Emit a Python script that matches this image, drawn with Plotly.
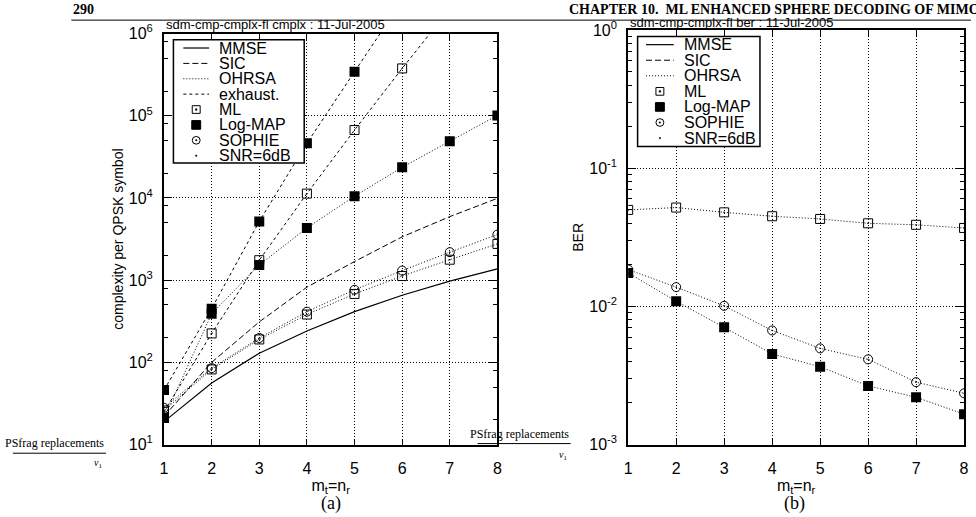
import plotly.graph_objects as go

# ---------------- data ----------------
n_tx = [1, 2, 3, 4, 5, 6, 7, 8]

# complexity per QPSK symbol (left panel)
mmse_cplx = [19, 56, 129, 241, 414, 655, 973, 1370]
sic_cplx = [22, 100, 311, 822, 1683, 3365, 5930, 9900]
ml_ohrsa_cplx = [26, 82, 190, 382, 680, 1122, 1775, 2760]
sophie_ohrsa_cplx = [28, 85, 198, 414, 764, 1309, 2190, 3580]
logmap_ohrsa_cplx = [21, 390, 1530, 4320, 10500, 23600, 49000, 101000]
ml_exh_cplx = [25, 225, 1750, 11300, 67100, 377000, 2.0e6, None]
logmap_exh_cplx = [46, 450, 5180, 46300, 344000, 2.5e6, None, None]

# BER at SNR = 6 dB (right panel)
ml_ber = [0.050, 0.052, 0.048, 0.045, 0.043, 0.040, 0.039, 0.037]
logmap_ber = [0.0175, 0.0109, 0.00706, 0.00453, 0.00366, 0.00266, 0.0022, 0.00166]
sophie_ber = [0.0185, 0.0138, 0.0101, 0.0067, 0.00497, 0.00414, 0.00283, 0.00235]

legend_left = ["MMSE", "SIC", "OHRSA", "exhaust.", "ML", "Log-MAP", "SOPHIE", "SNR=6dB"]
legend_right = ["MMSE", "SIC", "OHRSA", "ML", "Log-MAP", "SOPHIE", "SNR=6dB"]
x_ticks = [1, 2, 3, 4, 5, 6, 7, 8]
cplx_decades = [1, 2, 3, 4, 5, 6]
ber_decades = [-3, -2, -1, 0]

# ---------------- styles ----------------
FONT = "Liberation Sans, Arial, Helvetica, sans-serif"
NARROW = "Liberation Sans Narrow, Liberation Sans, Arial, sans-serif"
SERIF = "Liberation Serif, Times New Roman, serif"
DOT = "1px,2px"
EXH = "3px,3px"
SICD = "6px,3px"
SQ = dict(symbol="square-open-dot", size=9, color="black", line=dict(width=1, color="black"))
FSQ = dict(symbol="square", size=10, color="black")
CIR = dict(symbol="circle-open-dot", size=9, color="black", line=dict(width=1, color="black"))

fig = go.Figure()

def add(x, y, xa, ya, dash=None, marker=None, width=1):
    mode = "lines" + ("+markers" if marker else "")
    fig.add_trace(go.Scatter(
        x=x, y=y, mode=mode, xaxis=xa, yaxis=ya, showlegend=False,
        line=dict(color="black", width=width, dash=dash or "solid"),
        marker=marker or {}, connectgaps=False, hoverinfo="skip"))

# left panel
add(n_tx, mmse_cplx, "x", "y", "solid", width=1.2)
add(n_tx, sic_cplx, "x", "y", SICD)
add(n_tx, ml_ohrsa_cplx, "x", "y", DOT, SQ)
add(n_tx, sophie_ohrsa_cplx, "x", "y", DOT, CIR)
add(n_tx, logmap_ohrsa_cplx, "x", "y", DOT, FSQ)
add(n_tx, ml_exh_cplx, "x", "y", EXH, SQ)
add(n_tx, logmap_exh_cplx, "x", "y", EXH, FSQ)

# right panel
add(n_tx, ml_ber, "x2", "y2", DOT, SQ)
add(n_tx, sophie_ber, "x2", "y2", DOT, CIR)
add(n_tx, logmap_ber, "x2", "y2", DOT, FSQ)

W, H = 976, 517
def px_x(v): return v / W
def px_y(v): return 1 - v / H

def decade_minor(lo, hi, mults):
    return [m * 10 ** d for d in range(lo, hi) for m in mults]

common_x = dict(
    range=[1, 8], tickvals=x_ticks, ticks="inside", ticklen=6, tickcolor="black",
    showline=True, linecolor="black", linewidth=2, mirror="allticks",
    showgrid=True, gridcolor="black", gridwidth=1, griddash=DOT,
    tickfont=dict(family=FONT, size=16, color="black"), zeroline=False,
    ticklabelstandoff=8,
    title=dict(text="m<sub>t</sub>=n<sub>r</sub>", font=dict(family=FONT, size=16, color="black"), standoff=4),
)
common_y = dict(
    type="log", ticks="inside", ticklen=8, tickcolor="black",
    showline=True, linecolor="black", linewidth=2, mirror="allticks",
    showgrid=True, gridcolor="black", gridwidth=1, griddash=DOT,
    tickfont=dict(family=FONT, size=16, color="black"), zeroline=False,
    ticklabelstandoff=6,
)

fig.update_layout(
    width=W, height=H, margin=dict(l=0, r=0, t=0, b=0),
    paper_bgcolor="white", plot_bgcolor="white", showlegend=False,
    font=dict(family=FONT, color="black"),
    xaxis=dict(common_x, domain=[px_x(161.5), px_x(498)], anchor="y"),
    yaxis=dict(common_y, domain=[px_y(451), px_y(23.5)], anchor="x", range=[1, 6],
               tickvals=[10 ** d for d in cplx_decades],
               ticktext=["10<sup>%d</sup>" % d for d in cplx_decades],
               minor=dict(tickmode="array", tickvals=decade_minor(1, 6, [2, 5, 8]),
                          ticks="inside", ticklen=4, tickcolor="black", showgrid=False),
               title=dict(text="complexity per QPSK symbol", font=dict(family=FONT, size=14, color="black"), standoff=2)),
    xaxis2=dict(common_x, domain=[px_x(630), px_x(969)], anchor="y2"),
    yaxis2=dict(common_y, domain=[px_y(451), px_y(20)], anchor="x2", range=[-3, 0],
                tickvals=[10 ** d for d in ber_decades],
                ticktext=["10<sup>%d</sup>" % d for d in ber_decades],
                minor=dict(tickmode="array", tickvals=decade_minor(-3, 0, [2, 3, 4, 5, 6, 7, 8, 9]),
                           ticks="inside", ticklen=4, tickcolor="black", showgrid=False),
                title=dict(text="BER", font=dict(family=FONT, size=14, color="black"), standoff=2)),
)

ann = []
shapes = []

def text(t, x, y, size, family=FONT, xanchor="left", yanchor="middle"):
    ann.append(dict(text=t, x=px_x(x), y=px_y(y), xref="paper", yref="paper",
                    xanchor=xanchor, yanchor=yanchor, showarrow=False,
                    font=dict(family=family, size=size, color="black")))

def pline(x0, x1, y0, y1, width=1, dash="solid"):
    shapes.append(dict(type="line", xref="paper", yref="paper", x0=px_x(x0), x1=px_x(x1),
                       y0=px_y(y0), y1=px_y(y1), line=dict(color="black", width=width, dash=dash),
                       layer="above"))

def prect(x0, x1, y0, y1, fill=None, width=1, kind="rect"):
    shapes.append(dict(type=kind, xref="paper", yref="paper", x0=px_x(x0), x1=px_x(x1),
                       y0=px_y(y1), y1=px_y(y0), line=dict(color="black", width=width),
                       fillcolor=fill if fill else "rgba(0,0,0,0)", layer="above"))

# ----- legends (keys drawn as decorations) -----
def legend_box(names, bx0, bx1, by0, by1, y_first, step, lx0, lx1, tx):
    prect(bx0, bx1, by0, by1, fill="white", width=1.5)
    mx = (lx0 + lx1) / 2
    for i, nm in enumerate(names):
        y = y_first + step * i
        if nm == "MMSE":
            pline(lx0, lx1, y, y, 1.2)
        elif nm == "SIC":
            pline(lx0, lx1, y, y, 1, SICD)
        elif nm == "OHRSA":
            pline(lx0, lx1, y, y, 1, DOT)
        elif nm == "exhaust.":
            pline(lx0, lx1, y, y, 1, EXH)
        elif nm == "ML":
            prect(mx - 4, mx + 4, y - 4, y + 4)
            prect(mx - 0.8, mx + 0.8, y - 0.8, y + 0.8, fill="black", width=0.5)
        elif nm == "Log-MAP":
            prect(mx - 4.5, mx + 4.5, y - 4.5, y + 4.5, fill="black")
        elif nm == "SOPHIE":
            prect(mx - 4, mx + 4, y - 4, y + 4, kind="circle")
            prect(mx - 0.8, mx + 0.8, y - 0.8, y + 0.8, fill="black", width=0.5, kind="circle")
        elif nm == "SNR=6dB":
            prect(mx - 0.8, mx + 0.8, y - 0.8, y + 0.8, fill="black", width=0.5, kind="circle")
        text(nm, tx, y, 16)

legend_box(legend_left, 171, 303, 30, 158, 38.5, 16.0, 181, 207, 215)
legend_box(legend_right, 639.5, 763, 26.5, 141, 35, 16.2, 648, 676, 684)

# header (cut by the page top in the reference)
text("<b>290</b>", 68, 8.5, 14, SERIF, yanchor="bottom")
text("<b>CHAPTER 10.  ML ENHANCED SPHERE DECODING OF MIMO</b>", 568, 8.5, 14, SERIF, yanchor="bottom")
pline(68, 976, 9.5, 9.5, 1)

# file stamps
text("sdm-cmp-cmplx-fl cmplx : 11-Jul-2005", 161, 14, 13, NARROW)
text("sdm-cmp-cmplx-fl ber : 11-Jul-2005", 630, 12, 13, NARROW)

# sub-captions
text("(a)", 330, 512, 18, SERIF, xanchor="center")
text("(b)", 798, 512, 18, SERIF, xanchor="center")

# PSfrag leftovers
for (x1, yt, yr, yv) in [(103, 449, 460, 471), (572, 440, 450, 462)]:
    text("PSfrag replacements", x1, yt, 12, SERIF, xanchor="right")
    text("<i>v</i><sub>1</sub>", x1 - 2, yv, 10, SERIF, xanchor="right")
    pline(x1 - 94, x1, yr, yr, 1)

fig.update_layout(annotations=ann, shapes=shapes)

fig.write_html("out.html")
